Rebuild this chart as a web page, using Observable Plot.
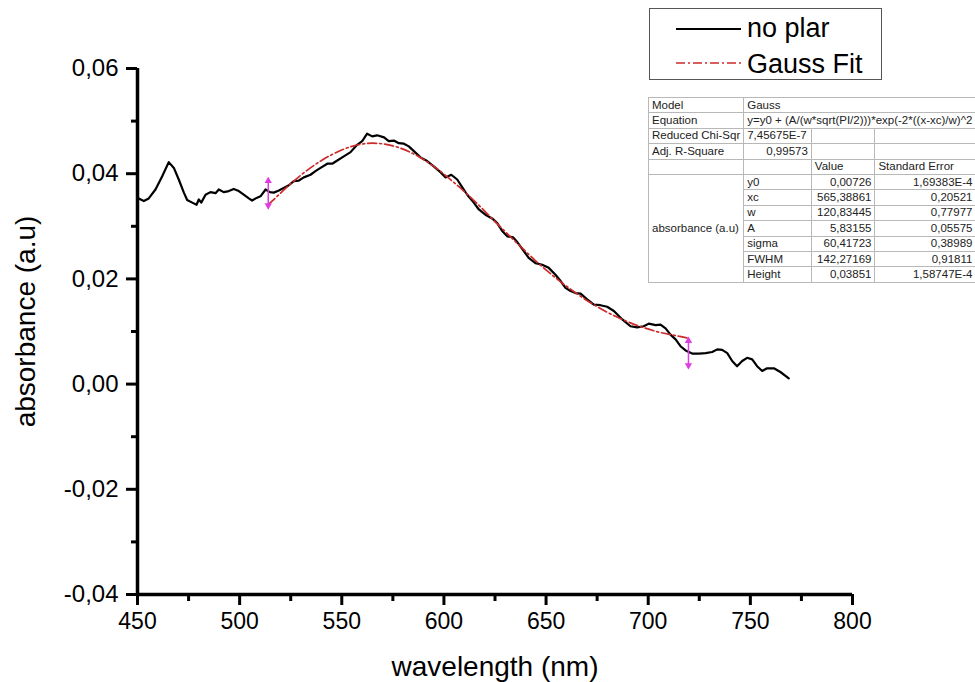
<!DOCTYPE html>
<html>
<head>
<meta charset="utf-8">
<script src="https://cdn.jsdelivr.net/npm/d3@7"></script>
<script src="https://cdn.jsdelivr.net/npm/@observablehq/plot@0.6"></script>
<style>
  body { margin: 0; background: #fff; }
  #wrap { position: relative; width: 975px; height: 682px; overflow: hidden; background: #fff; font-family: "Liberation Sans", Arial, sans-serif; }
  #wrap svg.plot { position: absolute; left: 0; top: 0; }
  #legend { position: absolute; left: 649px; top: 8px; width: 233px; height: 72px; box-sizing: border-box; border: 1px solid #555; background: #fff; }
  #legend .lab { position: absolute; left: 97px; font-size: 27px; line-height: 30px; color: #000; white-space: nowrap; }
  #fit { position: absolute; left: 648px; top: 97px; border-collapse: collapse; table-layout: fixed; font-size: 11.5px; color: #222; background: #fff; }
  #fit td { height: 15.4px; padding: 0 3px; line-height: 13px; white-space: nowrap; overflow: hidden; border: 1px solid #b8b8b8; box-sizing: border-box; }
  #fit td.r { text-align: right; }
  #fit { border: 1.5px solid #666; }
</style>
</head>
<body>
<div id="wrap"></div>
<script>
// ---- data ----
const wavelength = [450.6,453.1,455.5,458.8,462.1,465.3,467.8,470.2,472.7,474.3,476.8,478.9,480,481.2,483.3,485.7,488.2,489.8,492.2,494.7,497.1,499.6,502,504.5,506.1,508.3,510.2,512.7,514.8,516.7,519.2,521.6,524.1,526.5,529,531.4,534.7,537.1,539.6,542.9,545.3,547.8,551,554.3,557.5,560,562.4,564.9,567.3,570.7,573,575.5,577.9,580.4,582.8,585.3,588.5,591.8,595,598.3,600.8,603.6,606.5,609,611.4,614.6,617.1,620.3,623.6,626.1,628.5,631,633.9,635.9,639.1,641.5,644.8,648.1,651.3,654.6,657.1,659.5,662,664.4,666.9,670.1,673.4,676.6,679.9,683.2,687.3,691.3,694.6,697.8,700.3,703.6,706,708.5,710.9,713.4,715.8,718.3,721.5,724.8,728.1,731.3,733.8,736.2,738.7,741.1,743.5,746,748.4,750.9,753.3,755.8,758.2,761.5,764.7,768.8];
const absorbance = [0.0353,0.0348,0.0353,0.0370,0.0395,0.0422,0.0411,0.0389,0.0364,0.0350,0.0345,0.0341,0.0351,0.0345,0.0360,0.0365,0.0363,0.0370,0.0365,0.0367,0.0371,0.0367,0.0360,0.0353,0.0349,0.0354,0.0357,0.0370,0.0365,0.0364,0.0368,0.0373,0.0378,0.0386,0.0387,0.0393,0.0398,0.0405,0.0411,0.0419,0.0419,0.0425,0.0433,0.0441,0.0455,0.0462,0.0476,0.0471,0.0473,0.0469,0.0462,0.0463,0.0458,0.0457,0.0452,0.0443,0.0431,0.0424,0.0414,0.0403,0.0393,0.0398,0.0389,0.0374,0.0360,0.0345,0.0332,0.0322,0.0315,0.0306,0.0291,0.0281,0.0279,0.0270,0.0253,0.0240,0.0230,0.0227,0.0221,0.0208,0.0196,0.0183,0.0177,0.0173,0.0172,0.0161,0.0151,0.0150,0.0147,0.0139,0.0123,0.0110,0.0108,0.0110,0.0115,0.0112,0.0113,0.0106,0.0094,0.0085,0.0072,0.0064,0.0058,0.0058,0.0059,0.0061,0.0066,0.0065,0.0059,0.0044,0.0034,0.0044,0.0050,0.0047,0.0034,0.0025,0.0030,0.0030,0.0023,0.0011];
const fitWavelength = [514,520,525,535,545,555,565,575,585,595,605,615,625,635,645,655,665,675,685,695,705,715,720];
const fitAbsorbance = [0.0341,0.0363,0.0381,0.0412,0.0436,0.0452,0.0458,0.0453,0.0438,0.0414,0.0383,0.0348,0.0309,0.0271,0.0234,0.0201,0.0172,0.0147,0.0127,0.0111,0.0099,0.0091,0.0087];
const rangeWavelength = [514, 719.7];
const rangeTop = [0.0392, 0.0088];
const rangeBottom = [0.0334, 0.0030];
const xMajorTicks = [450,500,550,600,650,700,750,800];
const xMinorTicks = [475,525,575,625,675,725,775];
const yMajorTicks = [-0.04,-0.02,0,0.02,0.04,0.06];
const yMinorTicks = [-0.03,-0.01,0.01,0.03,0.05];
const xTitle = "wavelength (nm)";
const yTitle = "absorbance (a.u)";
const seriesNames = ["no plar", "Gauss Fit"];
const fitModel = "Gauss";
const fitEquation = "y=y0 + (A/(w*sqrt(PI/2)))*exp(-2*((x-xc)/w)^2";
const chiSqr = "7,45675E-7";
const adjR2 = "0,99573";
const paramGroup = "absorbance (a.u)";
const paramNames = ["y0","xc","w","A","sigma","FWHM","Height"];
const paramValues = ["0,00726","565,38861","120,83445","5,83155","60,41723","142,27169","0,03851"];
const paramErrors = ["1,69383E-4","0,20521","0,77977","0,05575","0,38989","0,91811","1,58747E-4"];

// ---- build ----
const spectrum = wavelength.map((x, i) => ({x, y: absorbance[i]}));
const fit = fitWavelength.map((x, i) => ({x, y: fitAbsorbance[i]}));
const ranges = rangeWavelength.map((x, i) => ({x, y1: rangeBottom[i], y2: rangeTop[i]}));
const fmtY = d => d.toFixed(2).replace(".", ",");
const FIT_RED = "#cc2b2b";
const MAGENTA = "#e03ce0";

const chart = Plot.plot({
  width: 975,
  height: 682,
  marginLeft: 137,
  marginRight: 123,
  marginTop: 68,
  marginBottom: 88,
  style: {fontFamily: '"Liberation Sans", Arial, sans-serif', background: "transparent", color: "#000"},
  x: {domain: [450, 800]},
  y: {domain: [-0.04, 0.06]},
  marks: [
    Plot.axisX({ticks: xMinorTicks, tickSize: 7, tickFormat: () => "", strokeWidth: 3, label: null}),
    Plot.axisX({ticks: xMajorTicks, tickSize: 11, tickPadding: 7, tickFormat: d => String(d), fontSize: 23, strokeWidth: 3, label: null}),
    Plot.axisY({ticks: yMinorTicks, tickSize: 6, tickFormat: () => "", strokeWidth: 3, label: null}),
    Plot.axisY({ticks: yMajorTicks, tickSize: 11, tickPadding: 8, tickFormat: fmtY, fontSize: 24, strokeWidth: 3, label: null}),
    Plot.ruleX([450], {y1: -0.04, y2: 0.06, strokeWidth: 3.5}),
    Plot.ruleY([-0.04], {x1: 450, x2: 800, strokeWidth: 3.5}),
    Plot.line(spectrum, {x: "x", y: "y", stroke: "#000", strokeWidth: 2.2}),
    Plot.line(fit, {x: "x", y: "y", stroke: FIT_RED, strokeWidth: 1.7, strokeDasharray: "9,3,2,3", curve: "monotone-x"}),
    Plot.link(ranges, {x1: "x", x2: "x", y1: "y1", y2: "y2", stroke: MAGENTA, strokeWidth: 1.5}),
    Plot.dot(ranges, {x: "x", y: "y2", symbol: "triangle2", r: 3.5, fill: MAGENTA, stroke: "none", dy: 3}),
    Plot.dot(ranges, {x: "x", y: "y1", symbol: "triangle2", r: 3.5, fill: MAGENTA, stroke: "none", rotate: 180, dy: -3}),
    Plot.text([xTitle], {frameAnchor: "bottom", dy: 73, fontSize: 28, lineAnchor: "middle"}),
    Plot.text([yTitle], {frameAnchor: "left", dx: -111, dy: -10, rotate: -90, fontSize: 28, lineAnchor: "middle", textAnchor: "middle"})
  ]
});
chart.classList.add("plot");
const wrap = document.getElementById("wrap");
wrap.appendChild(chart);

// legend
const legend = document.createElement("div");
legend.id = "legend";
legend.innerHTML = `
  <svg width="231" height="70" style="position:absolute;left:0;top:0">
    <line x1="26" x2="91" y1="20" y2="20" stroke="#000" stroke-width="2"/>
    <line x1="26" x2="91" y1="54" y2="54" stroke="${FIT_RED}" stroke-width="1.6" stroke-dasharray="9,3,2,3"/>
  </svg>
  <div class="lab" style="top:4px">${seriesNames[0]}</div>
  <div class="lab" style="top:40px">${seriesNames[1]}</div>`;
wrap.appendChild(legend);

// fit results table
let html = `<colgroup><col style="width:99px"><col style="width:67px"><col style="width:63px"><col style="width:100px"></colgroup>`;
html += `<tr><td>Model</td><td colspan="3">${fitModel}</td></tr>`;
html += `<tr><td>Equation</td><td colspan="3" style="overflow:visible">${fitEquation}</td></tr>`;
html += `<tr><td>Reduced Chi-Sqr</td><td>${chiSqr}</td><td></td><td></td></tr>`;
html += `<tr><td>Adj. R-Square</td><td class="r">${adjR2}</td><td></td><td></td></tr>`;
html += `<tr><td></td><td></td><td>Value</td><td>Standard Error</td></tr>`;
paramNames.forEach((n, i) => {
  html += `<tr>${i === 0 ? `<td rowspan="${paramNames.length}">${paramGroup}</td>` : ""}<td>${n}</td><td class="r">${paramValues[i]}</td><td class="r">${paramErrors[i]}</td></tr>`;
});
const table = document.createElement("table");
table.id = "fit";
table.innerHTML = html;
wrap.appendChild(table);
</script>
</body>
</html>
